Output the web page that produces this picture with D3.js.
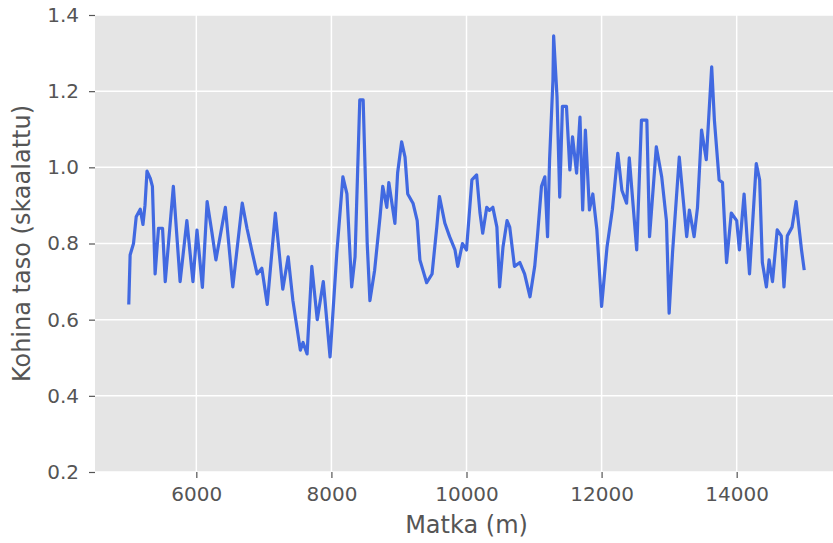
<!DOCTYPE html>
<html>
<head>
<meta charset="utf-8">
<script src="https://cdn.jsdelivr.net/npm/d3@7"></script>
<style>
  body { margin: 0; background: #fff; }
  svg { display: block; font-family: "DejaVu Sans", sans-serif; }
</style>
</head>
<body>
<div id="chart"></div>
<script>
// distance along the route (m)
const distance = [
  5000, 5020, 5070, 5110, 5170, 5210, 5240, 5270, 5320, 5350,
  5390, 5440, 5500, 5540, 5660, 5760, 5860, 5950, 6010, 6090,
  6160, 6230, 6290, 6430, 6540, 6680, 6750, 6830, 6900, 6970,
  7050, 7170, 7280, 7360, 7430, 7540, 7580, 7640, 7710, 7790,
  7880, 7980, 8080, 8170, 8230, 8300, 8350, 8420, 8470, 8530,
  8570, 8640, 8720, 8760, 8820, 8850, 8940, 8980, 9040, 9090,
  9130, 9210, 9270, 9310, 9410, 9490, 9560, 9600, 9680, 9750,
  9830, 9870, 9940, 10000, 10080, 10150, 10200, 10240, 10300, 10340,
  10390, 10450, 10490, 10540, 10600, 10640, 10710, 10790, 10860, 10940,
  11010, 11050, 11110, 11160, 11200, 11230, 11280, 11290, 11340, 11380,
  11420, 11480, 11530, 11570, 11630, 11680, 11720, 11760, 11820, 11870,
  11930, 12000, 12080, 12160, 12240, 12300, 12370, 12410, 12520, 12590,
  12670, 12710, 12810, 12890, 12960, 13000, 13050, 13150, 13260, 13300,
  13370, 13420, 13480, 13550, 13630, 13670, 13740, 13790, 13850, 13920,
  14000, 14040, 14110, 14190, 14290, 14340, 14380, 14440, 14480, 14530,
  14600, 14660, 14700, 14750, 14820, 14880, 14960, 15000
];

// scaled noise level
const noise = [
  0.64, 0.77, 0.80, 0.87, 0.89, 0.85, 0.90, 0.99, 0.97, 0.95,
  0.72, 0.84, 0.84, 0.70, 0.95, 0.70, 0.86, 0.70, 0.835, 0.685,
  0.91, 0.83, 0.757, 0.895, 0.686, 0.906, 0.84, 0.775, 0.72, 0.735,
  0.64, 0.88, 0.68, 0.765, 0.65, 0.52, 0.54, 0.51, 0.74, 0.60,
  0.70, 0.502, 0.775, 0.975, 0.93, 0.686, 0.765, 1.177, 1.177, 0.80,
  0.65, 0.73, 0.87, 0.95, 0.895, 0.96, 0.853, 0.985, 1.067, 1.027,
  0.93, 0.905, 0.86, 0.757, 0.697, 0.72, 0.843, 0.923, 0.853, 0.818,
  0.783, 0.74, 0.80, 0.783, 0.967, 0.98, 0.88, 0.827, 0.895, 0.887,
  0.895, 0.843, 0.686, 0.79, 0.86, 0.843, 0.74, 0.75, 0.72, 0.66,
  0.74, 0.818, 0.95, 0.975, 0.818, 1.02, 1.23, 1.345, 1.185, 0.922,
  1.16, 1.16, 0.993, 1.08, 0.985, 1.132, 0.888, 1.098, 0.888, 0.93,
  0.836, 0.635, 0.79, 0.89, 1.037, 0.94, 0.906, 1.025, 0.783, 1.124,
  1.124, 0.818, 1.054, 0.975, 0.86, 0.617, 0.775, 1.027, 0.818, 0.888,
  0.818, 0.895, 1.098, 1.02, 1.264, 1.124, 0.967, 0.96, 0.75, 0.88,
  0.86, 0.783, 0.93, 0.72, 1.01, 0.967, 0.75, 0.686, 0.757, 0.70,
  0.836, 0.82, 0.686, 0.82, 0.843, 0.91, 0.783, 0.73
];

const xTicks = [6000, 8000, 10000, 12000, 14000];
const yTicks = [0.2, 0.4, 0.6, 0.8, 1.0, 1.2, 1.4];

const width = 833;
const height = 543;
const margin = { top: 15, right: -5, bottom: 71, left: 95 };

const svg = d3.select("#chart")
  .append("svg")
  .attr("width", width)
  .attr("height", height);

const x = d3.scaleLinear()
  .domain([4500, 15500])
  .range([margin.left, width - margin.right]);

const y = d3.scaleLinear()
  .domain([0.2, 1.4])
  .range([height - margin.bottom, margin.top]);

// plot background
svg.append("rect")
  .attr("x", margin.left)
  .attr("y", margin.top)
  .attr("width", x.range()[1] - margin.left)
  .attr("height", y.range()[0] - margin.top)
  .attr("fill", "#e5e5e5");

// grid
svg.append("g")
  .selectAll("line")
  .data(xTicks)
  .join("line")
  .attr("x1", d => x(d))
  .attr("x2", d => x(d))
  .attr("y1", margin.top)
  .attr("y2", y.range()[0])
  .attr("stroke", "#fff")
  .attr("stroke-width", 1.5);

svg.append("g")
  .selectAll("line")
  .data(yTicks)
  .join("line")
  .attr("x1", margin.left)
  .attr("x2", x.range()[1])
  .attr("y1", d => y(d))
  .attr("y2", d => y(d))
  .attr("stroke", "#fff")
  .attr("stroke-width", 1.5);

// axes
const xAxis = svg.append("g")
  .attr("transform", `translate(0,${y.range()[0]})`)
  .call(d3.axisBottom(x).tickValues(xTicks).tickFormat(d3.format("d")).tickSize(6).tickPadding(9));

const yAxis = svg.append("g")
  .attr("transform", `translate(${margin.left},0)`)
  .call(d3.axisLeft(y).tickValues(yTicks).tickFormat(d3.format(".1f")).tickSize(6).tickPadding(10));

[xAxis, yAxis].forEach(a => {
  a.select(".domain").remove();
  a.selectAll(".tick line").attr("stroke", "#555").attr("stroke-width", 1.2);
  a.selectAll(".tick text")
    .attr("fill", "#555")
    .attr("font-size", 20)
    .attr("font-family", "DejaVu Sans");
});

// the noise line
const line = d3.line()
  .x((d, i) => x(distance[i]))
  .y(d => y(d));

svg.append("path")
  .datum(noise)
  .attr("fill", "none")
  .attr("stroke", "#4169e1")
  .attr("stroke-width", 3.2)
  .attr("stroke-linejoin", "round")
  .attr("d", line);

// axis labels
svg.append("text")
  .attr("x", x(10000))
  .attr("y", 533)
  .attr("text-anchor", "middle")
  .attr("font-size", 24)
  .attr("fill", "#555")
  .text("Matka (m)");

svg.append("text")
  .attr("transform", `translate(30,${y(0.8)}) rotate(-90)`)
  .attr("text-anchor", "middle")
  .attr("font-size", 24)
  .attr("fill", "#555")
  .text("Kohina taso (skaalattu)");
</script>
</body>
</html>
